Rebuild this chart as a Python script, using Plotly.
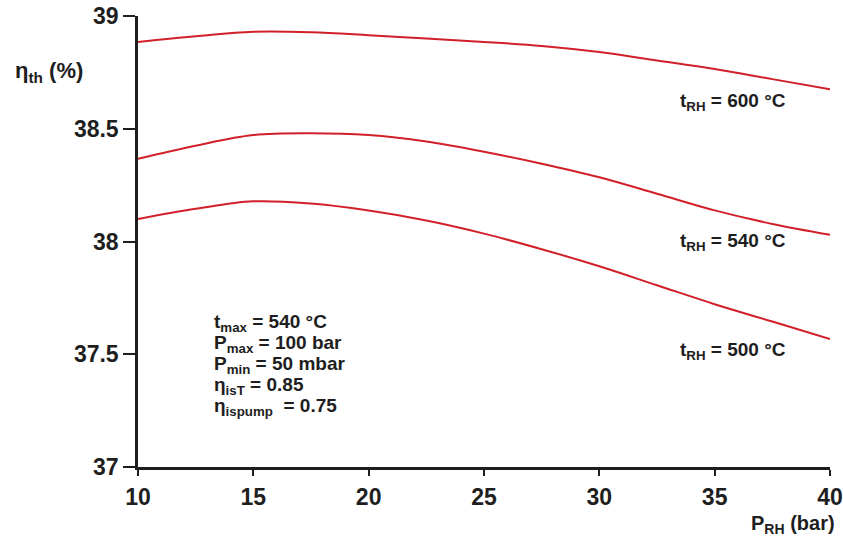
import plotly.graph_objects as go

# Reheat pressure (bar)
p_rh = [10, 12.5, 15, 17.5, 20, 22.5, 25, 27.5, 30, 32.5, 35, 37.5, 40]

# Thermal efficiency (%) for each reheat temperature
eta_600 = [38.885, 38.91, 38.93, 38.928, 38.915, 38.90, 38.885, 38.867, 38.84, 38.803, 38.765, 38.72, 38.675]
eta_540 = [38.367, 38.425, 38.472, 38.480, 38.472, 38.443, 38.398, 38.345, 38.285, 38.212, 38.138, 38.078, 38.03]
eta_500 = [38.10, 38.145, 38.178, 38.168, 38.137, 38.093, 38.035, 37.966, 37.89, 37.806, 37.722, 37.645, 37.567]

series = [("600", eta_600), ("540", eta_540), ("500", eta_500)]
label_y = {"600": 38.618, "540": 38.0, "500": 37.516}

x_ticks = [10, 15, 20, 25, 30, 35, 40]
y_ticks = [37, 37.5, 38, 38.5, 39]
y_tick_text = ["37", "37.5", "38", "38.5", "39"]

params = [
    "t<sub>max</sub> = 540 °C",
    "P<sub>max</sub> = 100 bar",
    "P<sub>min</sub> = 50 mbar",
    "η<sub>isT</sub> = 0.85",
    "η<sub>ispump</sub>  = 0.75",
]
param_y = [37.640, 37.547, 37.453, 37.360, 37.267]

RED = "#d2202a"
FONT = "Liberation Sans, Arial, Helvetica, sans-serif"
INK = "#1e1e1e"

fig = go.Figure()
for name, vals in series:
    fig.add_trace(go.Scatter(
        x=p_rh, y=vals, mode="lines",
        line=dict(color=RED, width=2, shape="spline", smoothing=1.0),
        showlegend=False, hoverinfo="skip",
    ))
    fig.add_annotation(
        x=35.8, y=label_y[name], xref="x", yref="y",
        text=f"t<sub>RH</sub> = {name} °C", showarrow=False,
        xanchor="center", yanchor="middle",
        font=dict(family=FONT, size=19, color=INK, weight="bold"),
    )

for txt, yv in zip(params, param_y):
    fig.add_annotation(
        x=13.2, y=yv, xref="x", yref="y", text=txt, showarrow=False,
        xanchor="left", yanchor="middle",
        font=dict(family=FONT, size=19, color=INK, weight="bold"),
    )

# Axis titles
fig.add_annotation(
    x=-0.18, y=0.876, xref="paper", yref="paper",
    text="η<sub>th</sub> (%)", showarrow=False,
    xanchor="left", yanchor="middle",
    font=dict(family=FONT, size=22, color=INK, weight="bold"),
)
fig.add_annotation(
    x=1.01, y=-0.127, xref="paper", yref="paper",
    text="P<sub>RH</sub> (bar)", showarrow=False,
    xanchor="right", yanchor="middle",
    font=dict(family=FONT, size=20, color=INK, weight="bold"),
)

fig.update_layout(
    width=843, height=538,
    margin=dict(l=138, r=13, t=16, b=71),
    paper_bgcolor="white", plot_bgcolor="white",
    xaxis=dict(
        range=[10, 40], tickvals=x_ticks, ticks="outside", ticklen=6, tickwidth=1.5,
        tickcolor=INK, showline=True, linecolor=INK, linewidth=2.5, showgrid=False,
        zeroline=False, ticklabeloverflow="allow", ticklabelstandoff=2,
        automargin=False,
        tickfont=dict(family=FONT, size=23, color=INK, weight="bold"),
    ),
    yaxis=dict(
        range=[37, 39], tickvals=y_ticks, ticktext=y_tick_text, ticks="outside",
        ticklen=12, tickwidth=1.5, tickcolor=INK, showline=True, linecolor=INK,
        linewidth=2.5, showgrid=False, zeroline=False, automargin=False,
        tickfont=dict(family=FONT, size=23, color=INK, weight="bold"),
    ),
)

fig.write_html("out.html")
